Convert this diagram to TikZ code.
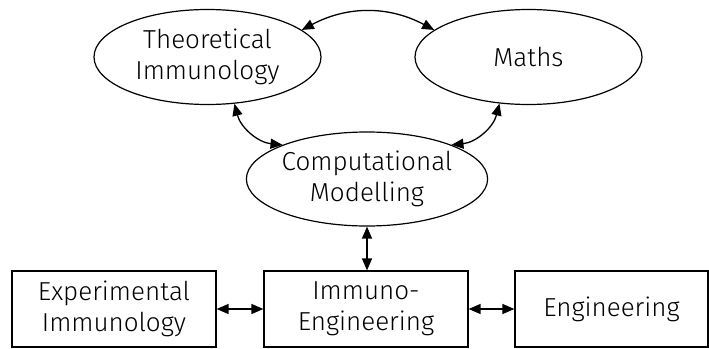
\documentclass[tikz,border=0pt]{standalone}
\usepackage{fontspec}
\setmainfont{Fira Sans Light}
\usetikzlibrary{arrows.meta,shapes.geometric}
\begin{document}
\begin{tikzpicture}[x=1pt,y=-1pt,
  every node/.style={font=\fontsize{26}{31}\selectfont, align=center, line width=1.2pt, inner sep=0pt},
  field/.style={draw, ellipse, minimum width=227pt, minimum height=95pt},
  area/.style={draw, rectangle, minimum height=76pt},
  link/.style={line width=1.3pt, {Triangle[length=12pt,width=10pt]}-{Triangle[length=12pt,width=10pt]}}]
\useasboundingbox (0,0) rectangle (709,348);

% discipline ellipses
\node[field] (ti) at (207.5,57) {Theoretical\\Immunology};
\node[field] (maths) at (528.5,57) {Maths};
\node[field, minimum width=228pt, minimum height=94pt] (cm) at (367,179) {Computational\\Modelling};

% applied areas
\node[area, minimum width=204pt] (exp) at (114,309) {Experimental\\Immunology};
\node[area, minimum width=204pt] (imm) at (366,309) {Immuno-\\Engineering};
\node[area, minimum width=193pt] (eng) at (611.5,309) {Engineering};

% connections
\draw[link] (ti.16) to[bend left=28] (maths.164);
\draw[link] (ti.-60) to[bend right=35] (cm.158);
\draw[link] (maths.-122) to[bend left=35] (cm.22);
\draw[link] (cm.south) -- (cm.south |- imm.north);
\draw[link] (exp) -- (imm);
\draw[link] (imm) -- (eng);
\end{tikzpicture}
\end{document}
